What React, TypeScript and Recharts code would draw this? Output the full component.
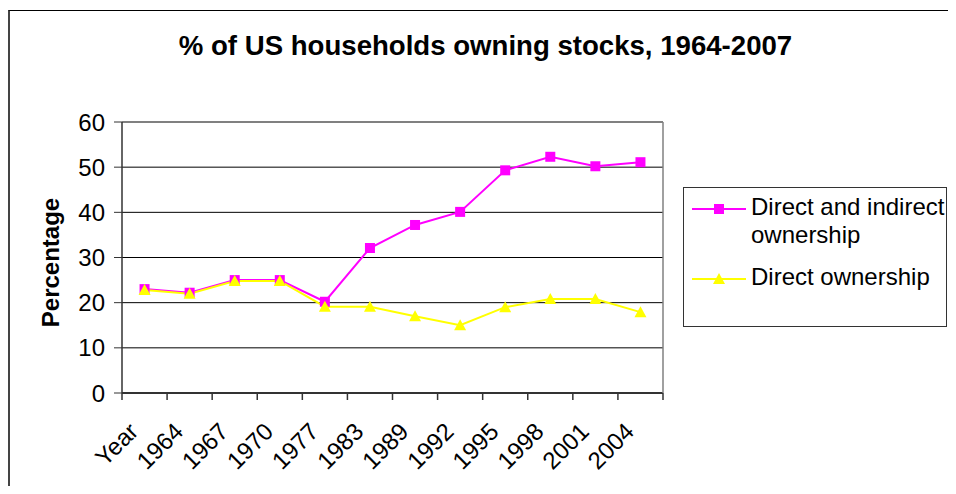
import React from 'react';
import {
  LineChart,
  Line,
  XAxis,
  YAxis,
  CartesianGrid,
  ReferenceLine,
  Legend
} from 'recharts';

const years = ['Year', '1964', '1967', '1970', '1977', '1983', '1989', '1992', '1995', '1998', '2001', '2004'];
const directAndIndirect = [23, 22.2, 25, 25, 20.2, 32.1, 37.2, 40.1, 49.3, 52.3, 50.2, 51.1];
const directOnly = [22.8, 22, 24.8, 24.8, 19.1, 19.1, 17, 15, 19, 20.8, 20.8, 17.9];
const yTicks = [0, 10, 20, 30, 40, 50, 60];

const data = years.map((year, i) => ({
  year,
  both: directAndIndirect[i],
  direct: directOnly[i]
}));

const FONT = "Arial, 'Liberation Sans', sans-serif";
const PINK = '#FF00FF';
const YELLOW = '#FFFF00';
const PLOT_W = 541;
const BAND = PLOT_W / years.length;

const SquareDot = (props: any) => {
  const { cx, cy, index } = props;
  if (cx == null || cy == null) return null;
  return <rect key={`sq-${index}`} x={cx - 5} y={cy - 5} width={10} height={10} fill={PINK} />;
};

const TriangleDot = (props: any) => {
  const { cx, cy, index } = props;
  if (cx == null || cy == null) return null;
  return (
    <polygon
      key={`tri-${index}`}
      points={`${cx},${cy - 6} ${cx - 6},${cy + 5} ${cx + 6},${cy + 5}`}
      fill={YELLOW}
    />
  );
};

// category labels sit in the middle of each band, tick marks on the band edges
const XTick = (props: any) => {
  const { x, y, payload, index } = props;
  const half = BAND / 2;
  const tx = x - 5;
  const ty = y + 40;
  return (
    <g>
      <line x1={x - half} y1={y} x2={x - half} y2={y + 7} stroke="#333" strokeWidth={1.5} />
      {index === years.length - 1 && (
        <line x1={x + half} y1={y} x2={x + half} y2={y + 7} stroke="#333" strokeWidth={1.5} />
      )}
      <text
        x={tx}
        y={ty}
        transform={`rotate(-45, ${tx}, ${ty})`}
        textAnchor="end"
        fontSize={24}
        fontFamily={FONT}
        fill="#000"
      >
        {payload.value}
      </text>
    </g>
  );
};

const LegendBox = (props: any) => {
  const { payload } = props;
  return (
    <div
      style={{
        border: '1px solid #333',
        width: 264,
        height: 140,
        paddingTop: 5,
        boxSizing: 'border-box',
        fontFamily: FONT,
        fontSize: 24,
        lineHeight: '28px',
        color: '#000',
        background: '#fff',
        whiteSpace: 'normal'
      }}
    >
      {(payload || []).map((entry: any, i: number) => (
        <div key={i} style={{ display: 'flex', alignItems: 'flex-start', marginBottom: 14 }}>
          <svg width={54} height={28} style={{ marginLeft: 8, flex: 'none' }}>
            <line x1={0} y1={16} x2={54} y2={16} stroke={entry.color} strokeWidth={2} />
            {entry.type === 'square' ? (
              <rect x={22} y={11} width={10} height={10} fill={entry.color} />
            ) : (
              <polygon points="27,10 21,21 33,21" fill={entry.color} />
            )}
          </svg>
          <span style={{ marginLeft: 5, width: 196, flex: 'none' }}>{entry.value}</span>
        </div>
      ))}
    </div>
  );
};

export default function App() {
  return (
    <div style={{ position: 'relative', width: 948, height: 478, background: '#fff', overflow: 'hidden' }}>
      <div
        style={{
          position: 'absolute',
          left: 0,
          top: 2,
          width: 1000,
          height: 600,
          borderLeft: '2px solid #444',
          borderTop: '1px solid #000'
        }}
      />
      <div
        style={{
          position: 'absolute',
          left: 0,
          width: 955,
          top: 23,
          textAlign: 'center',
          fontFamily: FONT,
          fontWeight: 'bold',
          fontSize: 27.6,
          lineHeight: '30px',
          color: '#000'
        }}
      >
        % of US households owning stocks, 1964-2007
      </div>
      <LineChart
        width={948}
        height={478}
        data={data}
        margin={{ top: 114, right: 292, bottom: 33, left: 8 }}
        style={{ position: 'absolute', left: 0, top: 0 }}
      >
        <CartesianGrid horizontal vertical={false} stroke="#000" strokeWidth={1} />
        <ReferenceLine y={60} stroke="#808080" strokeWidth={1.5} />
        <XAxis
          dataKey="year"
          type="category"
          interval={0}
          height={60}
          padding={{ left: BAND / 2, right: BAND / 2 }}
          axisLine={{ stroke: '#333', strokeWidth: 2 }}
          tickLine={false}
          tickSize={0}
          tickMargin={0}
          tick={<XTick />}
        />
        <YAxis
          domain={[0, 60]}
          ticks={yTicks}
          width={106}
          tickSize={8}
          tickMargin={9}
          axisLine={{ stroke: '#333', strokeWidth: 1.5 }}
          tickLine={{ stroke: '#333' }}
          tick={{ fill: '#000', fontSize: 24, fontFamily: FONT }}
          label={{
            value: 'Percentage',
            angle: -90,
            position: 'insideLeft',
            offset: 34,
            dy: 5,
            style: { textAnchor: 'middle', fontSize: 24, fontWeight: 'bold', fontFamily: FONT, fill: '#000' }
          }}
        />
        <YAxis
          yAxisId="frame"
          orientation="right"
          domain={[0, 60]}
          width={1}
          tick={false}
          tickLine={false}
          axisLine={{ stroke: '#808080', strokeWidth: 1.5 }}
        />
        <Line
          dataKey="both"
          name="Direct and indirect ownership"
          stroke={PINK}
          strokeWidth={2}
          legendType="square"
          dot={SquareDot}
          activeDot={false}
          isAnimationActive={false}
        />
        <Line
          dataKey="direct"
          name="Direct ownership"
          stroke={YELLOW}
          strokeWidth={2}
          legendType="triangle"
          dot={TriangleDot}
          activeDot={false}
          isAnimationActive={false}
        />
        <Legend
          layout="vertical"
          align="center"
          verticalAlign="middle"
          wrapperStyle={{ left: 675, top: 179, width: 264 }}
          content={<LegendBox />}
        />
      </LineChart>
    </div>
  );
}
